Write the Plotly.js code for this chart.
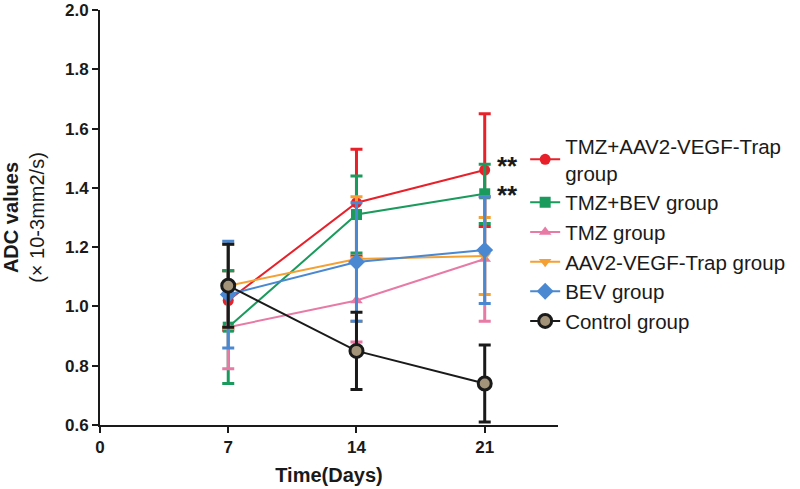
<!DOCTYPE html>
<html>
<head>
<meta charset="utf-8">
<script src="https://cdn.plot.ly/plotly-3.0.1.min.js"></script>
<style>html,body{margin:0;padding:0;background:#fff;}#chart{width:800px;height:489px;}</style>
</head>
<body>
<div id="chart"></div>
<script>
const days = [7, 14, 21];
const groupNames = ["TMZ+AAV2-VEGF-Trap<br>group", "TMZ+BEV group", "TMZ group", "AAV2-VEGF-Trap group", "BEV group", "Control group"];
const tmzAavMean = [1.02, 1.35, 1.46];
const tmzAavSD   = [0.10, 0.18, 0.19];
const tmzBevMean = [0.93, 1.31, 1.38];
const tmzBevSD   = [0.19, 0.13, 0.10];
const tmzMean    = [0.93, 1.02, 1.16];
const tmzSD      = [0.14, 0.14, 0.21];
const aavMean    = [1.07, 1.16, 1.17];
const aavSD      = [0.14, 0.21, 0.13];
const bevMean    = [1.04, 1.15, 1.19];
const bevSD      = [0.18, 0.20, 0.18];
const ctrlMean   = [1.07, 0.85, 0.74];
const ctrlSD     = [0.14, 0.13, 0.13];
const yTicks = [0.6, 0.8, 1.0, 1.2, 1.4, 1.6, 1.8, 2.0];
const xTicks = [0, 7, 14, 21];
const sigLabels = ["**", "**"];

function tr(name, y, sd, color, symbol, size, fill, lw) {
  return {
    x: days, y: y, name: name, type: 'scatter', mode: 'lines+markers',
    line: {color: color, width: 2},
    marker: {symbol: symbol, size: size, color: fill || color, line: {color: color, width: lw || 0}},
    error_y: {type: 'data', array: sd, visible: true, color: color, thickness: 3, width: 6}
  };
}
const data = [
  tr(groupNames[0], tmzAavMean, tmzAavSD, '#e8202a', 'circle', 11),
  tr(groupNames[1], tmzBevMean, tmzBevSD, '#1a9a5c', 'square', 11),
  tr(groupNames[2], tmzMean, tmzSD, '#e87aa6', 'triangle-up', 11),
  tr(groupNames[3], aavMean, aavSD, '#f5a033', 'triangle-down', 11),
  tr(groupNames[4], bevMean, bevSD, '#4a88d2', 'diamond', 13),
  tr(groupNames[5], ctrlMean, ctrlSD, '#1a1a1a', 'circle', 13, '#a39379', 3)
];
const layout = {
  width: 800, height: 489,
  margin: {l: 100, r: 240, t: 10, b: 64},
  paper_bgcolor: '#fff', plot_bgcolor: '#fff',
  font: {family: 'Liberation Sans, Arial, sans-serif', color: '#1a1a1a'},
  showlegend: true,
  legend: {x: 0.9283, y: 0.72, xanchor: 'left', yanchor: 'top', font: {size: 20.5, color: '#1a1a1a'}, bgcolor: 'rgba(0,0,0,0)', tracegroupgap: 0},
  xaxis: {
    range: [0, 25], tickvals: xTicks, ticktext: xTicks.map(String),
    showgrid: false, zeroline: false, showline: true, linecolor: '#1a1a1a', linewidth: 2,
    ticks: 'outside', ticklen: 6, tickwidth: 2, tickcolor: '#1a1a1a',
    tickfont: {size: 17, family: 'Liberation Sans, Arial, sans-serif', weight: 'bold'},
    title: {text: '<b>Time(Days)</b>', font: {size: 20}, standoff: 12}
  },
  yaxis: {
    range: [0.6, 2.0], tickvals: yTicks, ticktext: yTicks.map(v => v.toFixed(1)),
    showgrid: false, zeroline: false, showline: true, linecolor: '#1a1a1a', linewidth: 2,
    ticks: 'outside', ticklen: 6, tickwidth: 2, tickcolor: '#1a1a1a',
    tickfont: {size: 17, family: 'Liberation Sans, Arial, sans-serif', weight: 'bold'},
    title: {text: '<b>ADC values</b><br>(× 10-3mm2/s)', font: {size: 20}, standoff: 30}
  },
  annotations: [
    {x: 21, y: tmzAavMean[2], xref: 'x', yref: 'y', text: '<b>' + sigLabels[0] + '</b>', showarrow: false, xanchor: 'left', xshift: 10, yshift: 4, font: {size: 26, color: '#1a1a1a'}},
    {x: 21, y: tmzBevMean[2], xref: 'x', yref: 'y', text: '<b>' + sigLabels[1] + '</b>', showarrow: false, xanchor: 'left', xshift: 10, yshift: -1, font: {size: 26, color: '#1a1a1a'}}
  ]
};
Plotly.newPlot('chart', data, layout, {displayModeBar: false, staticPlot: true});
</script>
</body>
</html>
